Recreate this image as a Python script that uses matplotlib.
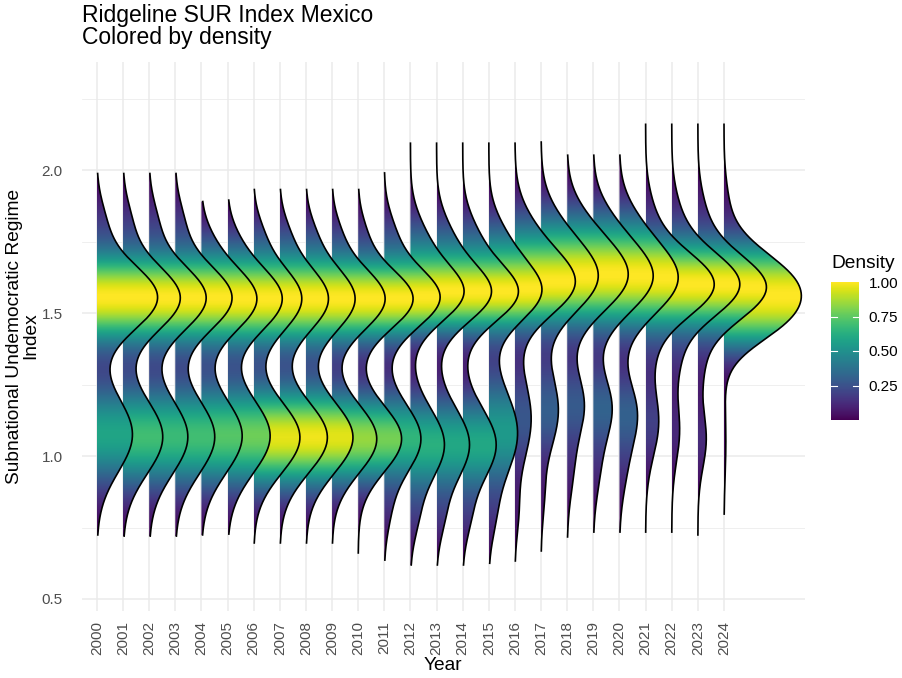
import numpy as np
import matplotlib.pyplot as plt
from matplotlib.patches import Polygon
from matplotlib.colors import Normalize
from matplotlib.cm import ScalarMappable

plt.rcParams['font.family'] = ['Liberation Sans', 'DejaVu Sans']

# Years (one ridge per year)
years = list(range(2000, 2025))

# range of the index in each year (ends of each ridge)
y_min = [0.724, 0.720, 0.720, 0.720, 0.724, 0.727, 0.696, 0.696, 0.696, 0.696,
         0.661, 0.636, 0.619, 0.619, 0.619, 0.625, 0.633, 0.668, 0.717, 0.734,
         0.734, 0.734, 0.734, 0.724, 0.797]
y_max = [1.988, 1.988, 1.988, 1.988, 1.890, 1.895, 1.932, 1.932, 1.932, 1.932,
         1.932, 1.990, 2.094, 2.094, 2.094, 2.094, 2.094, 2.098, 2.052, 2.052,
         2.052, 2.160, 2.160, 2.160, 2.160]

# density shape: main (upper) mode
up_mu = [1.555, 1.553, 1.553, 1.553, 1.550, 1.550, 1.550, 1.550, 1.550, 1.550,
         1.550, 1.555, 1.570, 1.570, 1.570, 1.575, 1.600, 1.620, 1.630, 1.625,
         1.620, 1.600, 1.600, 1.590, 1.586]
up_sd = [0.115, 0.115, 0.115, 0.115, 0.115, 0.115, 0.115, 0.115, 0.115, 0.110,
         0.105, 0.105, 0.100, 0.100, 0.100, 0.105, 0.110, 0.120, 0.125, 0.125,
         0.125, 0.115, 0.115, 0.115, 0.122]
up_amp = [2.32, 2.19, 2.18, 2.17, 2.12, 2.09, 1.84, 1.86, 1.88, 2.03,
          2.10, 2.13, 2.00, 2.05, 2.08, 1.97, 2.20, 2.10, 2.30, 2.26,
          2.22, 2.62, 2.60, 2.62, 2.75]
# shoulder above the main mode
sh_mu = [1.82, 1.82, 1.82, 1.82, 1.76, 1.76, 1.78, 1.78, 1.78, 1.78,
         1.78, 1.78, 1.76, 1.76, 1.76, 1.76, 1.78, 1.80, 1.82, 1.82,
         1.82, 1.85, 1.85, 1.85, 1.90]
sh_sd = [0.08, 0.08, 0.08, 0.08, 0.07, 0.07, 0.07, 0.07, 0.07, 0.07,
         0.07, 0.08, 0.09, 0.09, 0.09, 0.09, 0.10, 0.10, 0.09, 0.09,
         0.09, 0.09, 0.09, 0.09, 0.08]
sh_amp = [0.25, 0.25, 0.25, 0.25, 0.15, 0.15, 0.20, 0.20, 0.20, 0.20,
          0.20, 0.30, 0.45, 0.45, 0.45, 0.45, 0.50, 0.40, 0.30, 0.30,
          0.30, 0.20, 0.20, 0.20, 0.10]
# lower mode
lo_mu = [1.075, 1.067, 1.067, 1.067, 1.070, 1.070, 1.065, 1.065, 1.065, 1.060,
         1.060, 1.060, 1.040, 1.040, 1.040, 1.080, 1.130, 1.160, 1.180, 1.170,
         1.150, 1.120, 1.090, 1.060, 1.050]
lo_sd = [0.130, 0.130, 0.130, 0.130, 0.130, 0.130, 0.125, 0.125, 0.125, 0.120,
         0.115, 0.120, 0.125, 0.125, 0.125, 0.150, 0.140, 0.130, 0.110, 0.110,
         0.110, 0.120, 0.110, 0.100, 0.120]
lo_amp = [1.36, 1.52, 1.48, 1.51, 1.56, 1.63, 1.77, 1.82, 1.80, 1.71,
          1.66, 1.40, 1.30, 1.26, 1.28, 1.10, 0.62, 0.66, 0.64, 0.70,
          0.66, 0.50, 0.30, 0.32, 0.07]
# extra bump (low tail, or a middle shoulder in the later years)
ex_mu = [0.80, 0.80, 0.80, 0.80, 0.80, 0.80, 0.80, 0.80, 0.80, 0.80,
         0.80, 0.80, 0.78, 0.78, 0.78, 0.78, 0.80, 0.85, 0.95, 0.95,
         0.95, 1.35, 1.33, 1.30, 1.45]
ex_sd = [0.08, 0.08, 0.08, 0.08, 0.08, 0.08, 0.08, 0.08, 0.08, 0.08,
         0.08, 0.08, 0.08, 0.08, 0.08, 0.08, 0.08, 0.08, 0.10, 0.10,
         0.10, 0.08, 0.08, 0.08, 0.08]
ex_amp = [0.00, 0.00, 0.00, 0.00, 0.00, 0.00, 0.00, 0.00, 0.00, 0.00,
          0.00, 0.15, 0.20, 0.20, 0.20, 0.15, 0.12, 0.10, 0.20, 0.20,
          0.20, 0.15, 0.20, 0.15, 0.70]


def ridge(i, y):
    w = np.zeros_like(y)
    for mu, sd, a in [(up_mu, up_sd, up_amp), (sh_mu, sh_sd, sh_amp),
                      (lo_mu, lo_sd, lo_amp), (ex_mu, ex_sd, ex_amp)]:
        w += a[i] * np.exp(-(y - mu[i]) ** 2 / (2 * sd[i] ** 2))
    return w


fig = plt.figure(figsize=(9.03, 6.78), dpi=100)
ax = fig.add_axes([82 / 903, 1 - 611 / 678, 723 / 903, 549 / 678])

for i in reversed(range(len(years))):
    y = np.linspace(y_min[i], y_max[i], 500)
    w = ridge(i, y)
    z = 3 + (len(years) - i) * 2
    pts = np.column_stack([np.r_[i + w, i, i], np.r_[y, y_max[i], y_min[i]]])
    poly = Polygon(pts, closed=True, transform=ax.transData)
    img = plt.cm.viridis(w / w.max())[:, None, :]
    im = ax.imshow(img, extent=[i, i + w.max(), y_min[i], y_max[i]], origin='lower',
                   aspect='auto', interpolation='bilinear', zorder=z)
    im.set_clip_path(poly)
    ax.plot(i + w, y, color='black', lw=1.2, zorder=z + 1)

ax.set_xlim(-0.57, 27.1)
ax.set_ylim(0.458, 2.378)
ax.set_xticks(range(len(years)))
ax.set_xticklabels([str(yr) for yr in years], rotation=90, fontsize=11, color='#4D4D4D')
ax.set_yticks([0.5, 1.0, 1.5, 2.0])
ax.set_yticklabels(['0.5', '1.0', '1.5', '2.0'], fontsize=11, color='#4D4D4D')
ax.set_yticks([0.75, 1.25, 1.75, 2.25], minor=True)
ax.tick_params(which='both', length=0)
ax.tick_params(axis='y', pad=14)
ax.tick_params(axis='x', pad=7)
ax.grid(which='major', color='#EBEBEB', lw=1.1)
ax.grid(which='minor', axis='y', color='#EBEBEB', lw=0.55)
ax.set_axisbelow(True)
for s in ax.spines.values():
    s.set_visible(False)

fig.text(82 / 903, 1 - 4 / 678, "Ridgeline SUR Index Mexico\nColored by density",
         fontsize=16.5, ha='left', va='top', linespacing=0.95)
fig.text(23 / 903, 1 - 336 / 678, "Subnational Undemocratic Regime\nIndex",
         fontsize=13.75, rotation=90, ha='center', va='center', multialignment='center',
         linespacing=0.95)
fig.text(443 / 903, 1 - 665 / 678, "Year", fontsize=13.75, ha='center', va='center')

# colour bar legend
cax = fig.add_axes([831 / 903, 1 - 420 / 678, 28 / 903, 138 / 678])
sm = ScalarMappable(norm=Normalize(0, 1), cmap='viridis')
cb = fig.colorbar(sm, cax=cax)
cb.outline.set_visible(False)
ticks = [0.25, 0.5, 0.75, 1.0]
cb.set_ticks(ticks)
cb.set_ticklabels(['0.25', '0.50', '0.75', '1.00'])
cax.tick_params(length=0, pad=7, labelsize=11)
for t in ticks[:-1]:
    cax.plot([0, 0.2], [t, t], transform=cax.get_yaxis_transform(), color='white', lw=0.8)
    cax.plot([0.8, 1], [t, t], transform=cax.get_yaxis_transform(), color='white', lw=0.8)
fig.text(831 / 903, 1 - 263 / 678, "Density", fontsize=13.75, ha='left', va='center')

fig.savefig('out.png', dpi=100)
